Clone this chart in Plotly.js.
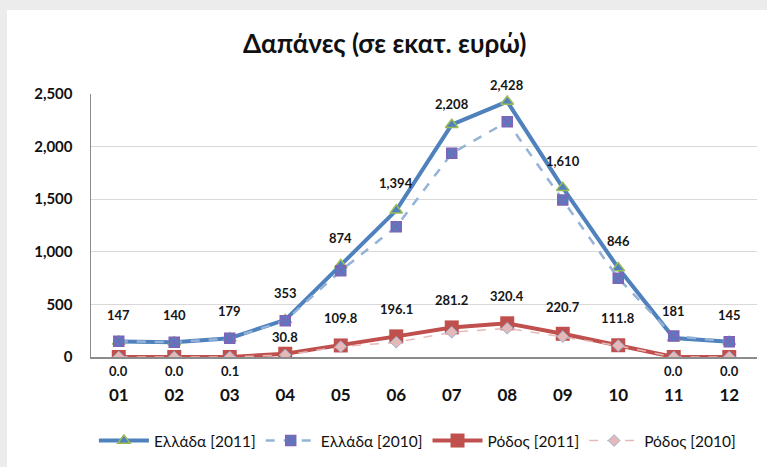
<!DOCTYPE html>
<html>
<head>
<meta charset="utf-8">
<script src="https://cdn.plot.ly/plotly-3.0.1.min.js"></script>
<style>
  html, body { margin: 0; padding: 0; width: 767px; height: 467px; overflow: hidden;
    background: #ececec; }
  #chart { position: absolute; left: 7px; top: 10px; width: 760px; height: 457px; background: #fff; }
</style>
</head>
<body>
<div id="chart"></div>
<script>
const months = ['01','02','03','04','05','06','07','08','09','10','11','12'];
const greece2011 = [147, 140, 179, 353, 874, 1394, 2208, 2428, 1610, 846, 181, 145];
const greece2010 = [150, 140, 178, 345, 820, 1239, 1936, 2237, 1492, 748, 200, 146];
const rhodes2011 = [0.0, 0.0, 0.1, 30.8, 109.8, 196.1, 281.2, 320.4, 220.7, 111.8, 0.0, 0.0];
const rhodes2010 = [0, 0, 0, 19, 98, 140, 235, 273, 193, 108, 0, 0];
const seriesNames = ['Ελλάδα [2011]', 'Ελλάδα [2010]', 'Ρόδος [2011]', 'Ρόδος [2010]'];

const FONT = 'Lato, "Open Sans", sans-serif';

const traces = [
  { x: months, y: greece2011, name: seriesNames[0], type: 'scatter', mode: 'lines+markers',
    line: { color: '#4F81BD', width: 4 },
    marker: { symbol: 'triangle-up', size: 11, color: '#4F81BD', line: { color: '#9BBB59', width: 1.5 } } },
  { x: months, y: greece2010, name: seriesNames[1], type: 'scatter', mode: 'lines+markers',
    line: { color: '#95B3D7', width: 2.5, dash: 'dash' },
    marker: { symbol: 'square-x', size: 10, color: '#4F81BD', line: { color: '#7F63B8', width: 1.5 } } },
  { x: months, y: rhodes2011, name: seriesNames[2], type: 'scatter', mode: 'lines+markers',
    line: { color: '#C0504D', width: 4 },
    marker: { symbol: 'square', size: 14, color: '#C0504D', line: { color: '#C0504D', width: 0 } } },
  { x: months, y: rhodes2010, name: seriesNames[3], type: 'scatter', mode: 'lines+markers',
    line: { color: '#E6B9B8', width: 1.5, dash: 'dash' },
    marker: { symbol: 'diamond', size: 9, color: '#E6B9B8', line: { color: '#95B3D7', width: 1 } } }
];

function fmt(v, dec) {
  return v.toLocaleString('en-US', { minimumFractionDigits: dec, maximumFractionDigits: dec });
}

const annotations = [];
greece2011.forEach((v, i) => {
  let shift = 27;
  if (v > 2400) shift = 17; else if (v > 2100) shift = 21;
  annotations.push({ x: i, y: v, text: fmt(v, 0), showarrow: false, yshift: shift,
    yanchor: 'middle', font: { family: FONT, size: 13, color: '#151515', weight: 'bold' } });
});
rhodes2011.forEach((v, i) => {
  let shift = 27;
  if (v < 1) shift = -14; else if (v < 50) shift = 17;
  annotations.push({ x: i, y: v, text: fmt(v, 1), showarrow: false, yshift: shift,
    yanchor: 'middle', font: { family: FONT, size: 13, color: '#151515', weight: 'bold' } });
});

const layout = {
  width: 760, height: 457,
  paper_bgcolor: '#ffffff', plot_bgcolor: '#ffffff',
  margin: { l: 84, r: 10, t: 84, b: 110 },
  font: { family: FONT, color: '#1a1a1a' },
  title: { text: 'Δαπάνες (σε εκατ. ευρώ)', x: 0.497, xanchor: 'center', yref: 'container',
    y: 0.925, yanchor: 'middle', font: { family: FONT, size: 26, color: '#111', weight: 'bold' } },
  xaxis: { type: 'category', range: [-0.5, 11.5], showgrid: false, zeroline: false,
    showline: true, linecolor: '#8c8c8c', linewidth: 1.5, ticks: '', ticklabelstandoff: 22,
    tickfont: { family: FONT, size: 17, color: '#111', weight: 'bold' }, fixedrange: true },
  yaxis: { range: [0, 2500], tickvals: [0, 500, 1000, 1500, 2000, 2500],
    ticktext: ['0', '500', '1,000', '1,500', '2,000', '2,500'],
    showgrid: true, gridcolor: '#d9d9d9', gridwidth: 1, zeroline: false,
    showline: true, linecolor: '#8c8c8c', linewidth: 1.5, ticks: '', ticklabelstandoff: 14,
    tickfont: { family: FONT, size: 15, color: '#111', weight: 'bold' }, fixedrange: true },
  legend: { orientation: 'h', xref: 'container', yref: 'container', x: 0.54, xanchor: 'center',
    y: 0.057, yanchor: 'middle', font: { family: FONT, size: 15.5, color: '#111' },
    itemwidth: 50, tracegroupgap: 0, bgcolor: 'rgba(0,0,0,0)' },
  annotations: annotations,
  showlegend: true
};

Plotly.newPlot('chart', traces, layout, { displayModeBar: false, staticPlot: true });
</script>
</body>
</html>
